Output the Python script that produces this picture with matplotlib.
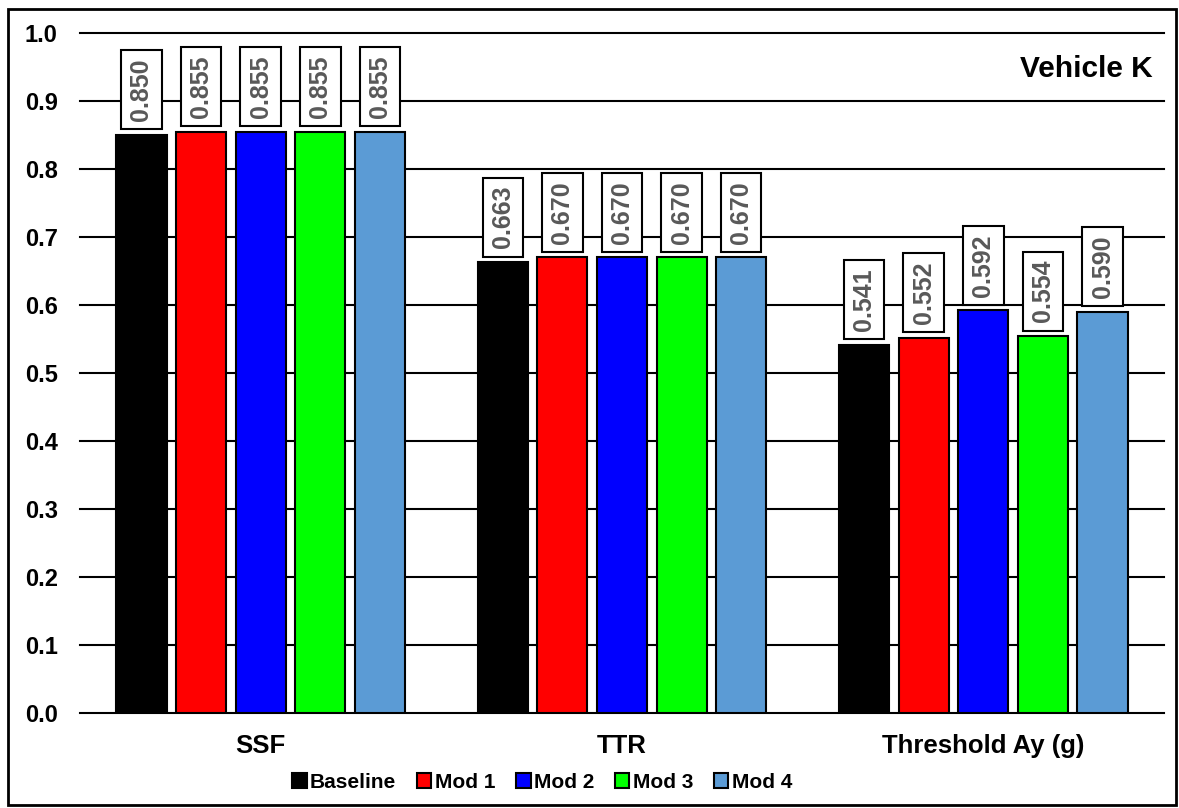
import matplotlib
matplotlib.use("Agg")
import matplotlib.pyplot as plt
from matplotlib.patches import Rectangle
import numpy as np

plt.rcParams['font.family'] = ['Liberation Sans', 'DejaVu Sans']

categories = ["SSF", "TTR", "Threshold Ay (g)"]
series_names = ["Baseline", "Mod 1", "Mod 2", "Mod 3", "Mod 4"]
baseline = [0.850, 0.663, 0.541]
mod1 = [0.855, 0.670, 0.552]
mod2 = [0.855, 0.670, 0.592]
mod3 = [0.855, 0.670, 0.554]
mod4 = [0.855, 0.670, 0.590]
series = [baseline, mod1, mod2, mod3, mod4]
colors = ["#000000", "#FF0000", "#0000FF", "#00FF00", "#5B9BD5"]
yticks = [0.0, 0.1, 0.2, 0.3, 0.4, 0.5, 0.6, 0.7, 0.8, 0.9, 1.0]

fig = plt.figure(figsize=(11.79, 8.08), dpi=100)
ax = fig.add_axes([80/1179, 1-713/808, (1164-80)/1179, (713-33)/808])

x = np.arange(len(categories))
pitch = 0.165
width = 0.139
for i, (vals, c, name) in enumerate(zip(series, colors, series_names)):
    pos = x + (i - 2) * pitch
    ax.bar(pos, vals, width=width, color=c, edgecolor="black", linewidth=1.5,
           label=name, zorder=3)
    for px, v in zip(pos, vals):
        ax.annotate(f"{v:.3f}", xy=(px, v), xytext=(0, 10), textcoords="offset points",
                    rotation=90, ha="center", va="bottom", fontsize=18, fontweight="bold",
                    color="#595959", zorder=5,
                    bbox=dict(boxstyle="square,pad=0.33", facecolor="white",
                              edgecolor="black", linewidth=1.5))

ax.set_xlim(-0.5, 2.5)
ax.set_ylim(0, 1.0)
ax.set_yticks(yticks)
ax.set_yticklabels([f"{t:.1f}" for t in yticks], fontsize=17, fontweight="bold")
ax.set_xticks(x)
ax.set_xticklabels(categories, fontsize=18.5, fontweight="bold")
ax.tick_params(axis="y", length=0, pad=16)
ax.tick_params(axis="x", length=0, pad=15)
ax.yaxis.grid(True, color="black", linewidth=1.5, zorder=0)
for gl in ax.get_ygridlines():
    gl.set_clip_on(False)
ax.set_axisbelow(True)
for s in ax.spines.values():
    s.set_visible(False)
ax.text((1153-80)/1084, 1-(69-33)/680, "Vehicle K", transform=ax.transAxes, ha="right",
        va="center", fontsize=21.5, fontweight="bold")

leg = fig.legend(loc="center", bbox_to_anchor=(542/1179, 1-782/808), ncol=5, frameon=False,
                 prop={"weight": "bold", "size": 15},
                 handlelength=0.7, handleheight=0.7, handletextpad=0.15, columnspacing=1.0)

fig.patches.append(Rectangle((8/1179, 1-805/808), (1176-8)/1179, (805-9)/808,
                             transform=fig.transFigure, fill=False,
                             edgecolor="black", linewidth=2))

fig.savefig("out.png", dpi=100)
